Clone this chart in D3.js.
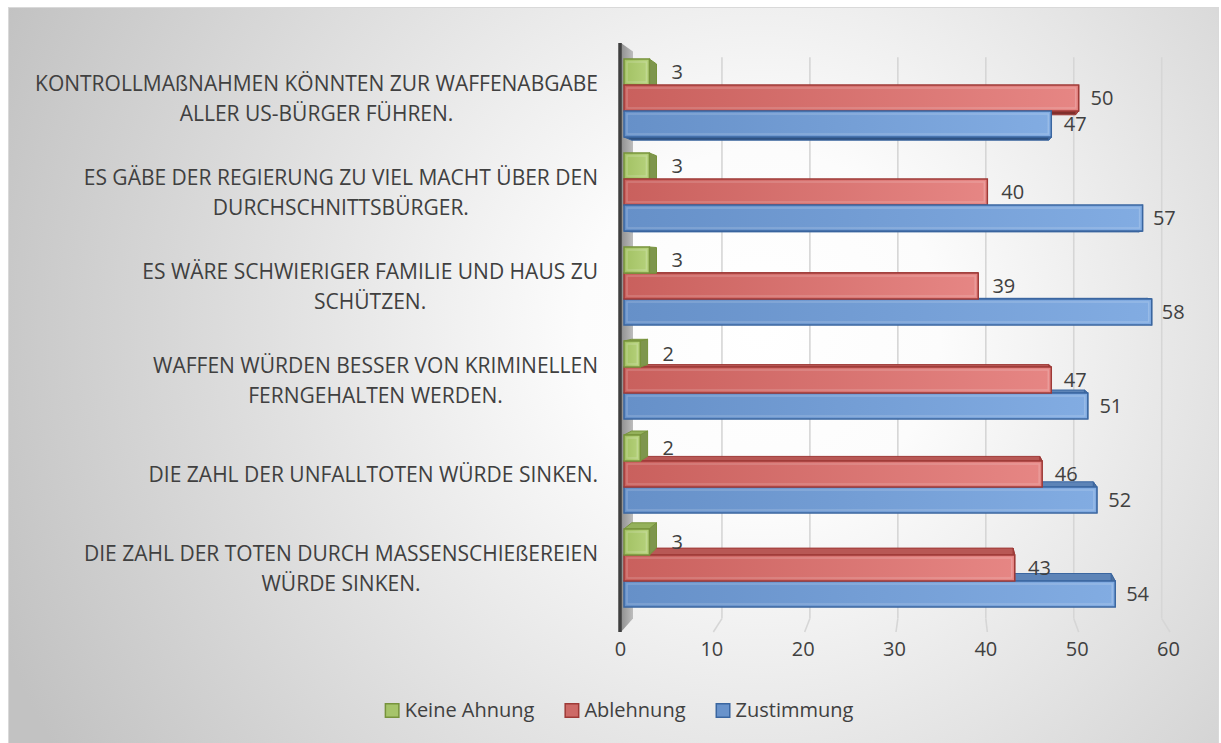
<!DOCTYPE html>
<html>
<head>
<meta charset="utf-8">
<script src="https://cdn.jsdelivr.net/npm/d3@7"></script>
<style>
  body { margin: 0; background: #fff; }
  svg { display: block; }
  text { font-family: "Open Sans", sans-serif; fill: #404040; }
</style>
</head>
<body>
<div id="chart"></div>
<script>
// category labels, already wrapped the way the chart shows them
const categoryLines = [
    ["KONTROLLMAßNAHMEN KÖNNTEN ZUR WAFFENABGABE", "ALLER US-BÜRGER FÜHREN."],
    ["ES GÄBE DER REGIERUNG ZU VIEL MACHT ÜBER DEN", "DURCHSCHNITTSBÜRGER."],
    ["ES WÄRE SCHWIERIGER FAMILIE UND HAUS ZU", "SCHÜTZEN."],
    ["WAFFEN WÜRDEN BESSER VON KRIMINELLEN", "FERNGEHALTEN WERDEN."],
    ["DIE ZAHL DER UNFALLTOTEN WÜRDE SINKEN."],
    ["DIE ZAHL DER TOTEN DURCH MASSENSCHIEßEREIEN", "WÜRDE SINKEN."]
];
const seriesNames = ["Keine Ahnung", "Ablehnung", "Zustimmung"];
const keineAhnung = [3, 3, 3, 2, 2, 3];
const ablehnung = [50, 40, 39, 47, 46, 43];
const zustimmung = [47, 57, 58, 51, 52, 54];
const xTicks = [0, 10, 20, 30, 40, 50, 60];

const seriesValues = [keineAhnung, ablehnung, zustimmung];
const colors = {
    "Keine Ahnung": {dark: "#77933c", from: "#a2c163", to: "#b6d27c", swatch: "#a6c46a"},
    "Ablehnung": {dark: "#9e3a37", from: "#c9605d", to: "#e68684", swatch: "#cd6a67"},
    "Zustimmung": {dark: "#3a66a0", from: "#6690c8", to: "#82acE2", swatch: "#6993cb"}
};

const width = 1221, height = 743;
let wallTop = 43, wallBottom = 632;
let vp = [946, 269];     // vanishing point of the 3d view
let kBar = 0.024, kWall = 0.037;
let depth = (p, k) => [p[0] + k * (vp[0] - p[0]), p[1] + k * (vp[1] - p[1])];
let poly = pts => "M" + pts.map(p => p[0].toFixed(1) + "," + p[1].toFixed(1)).join("L") + "Z";

let svg = d3.select("#chart").append("svg")
    .attr("width", width)
    .attr("height", height);

let defs = svg.append("defs");
let bg = defs.append("radialGradient").attr("id", "bg")
    .attr("gradientUnits", "userSpaceOnUse")
    .attr("cx", 760).attr("cy", 330).attr("r", 820);
bg.append("stop").attr("offset", 0).attr("stop-color", "#ffffff");
bg.append("stop").attr("offset", 0.22).attr("stop-color", "#fcfcfc");
bg.append("stop").attr("offset", 1).attr("stop-color", "#c2c2c2");

seriesNames.forEach((s, j) => {
    let g = defs.append("linearGradient").attr("id", "grad" + j);
    g.append("stop").attr("offset", 0).attr("stop-color", colors[s].from);
    g.append("stop").attr("offset", 1).attr("stop-color", colors[s].to);
});
let wg = defs.append("linearGradient").attr("id", "wall");
wg.append("stop").attr("offset", 0).attr("stop-color", "#8f8f8f");
wg.append("stop").attr("offset", 1).attr("stop-color", "#bdbdbd");

svg.append("rect")
    .attr("x", 8.5).attr("y", 7.5)
    .attr("width", 1210).attr("height", 745)
    .attr("fill", "url(#bg)")
    .attr("stroke", "#d9d9d9");

let xScale = d3.scaleLinear().domain([0, 60]).range([622, 1170]);
let yScale = d3.scaleBand()
    .domain(d3.range(categoryLines.length))
    .range([51, 615])
    .paddingInner(0.17)
    .paddingOuter(0.085);
let ySeries = d3.scaleBand()
    .domain(seriesNames)
    .range([0, yScale.bandwidth()]);

// back wall gridlines and floor lines
let grid = svg.append("g");
xTicks.filter(t => t > 0).forEach(t => {
    let top = depth([xScale(t), wallTop], kWall);
    let bot = depth([xScale(t), wallBottom], kWall);
    grid.append("line")
        .attr("x1", top[0]).attr("y1", top[1] + 6)
        .attr("x2", bot[0]).attr("y2", bot[1])
        .attr("stroke", "#d6d6d6").attr("stroke-width", 1.6);
    grid.append("line")
        .attr("x1", bot[0]).attr("y1", bot[1])
        .attr("x2", xScale(t)).attr("y2", wallBottom)
        .attr("stroke", "#d6d6d6").attr("stroke-width", 1.6);
});

// left side wall
let wx = xScale(0) - 1;
let wallPts = [[wx, wallTop], depth([wx, wallTop], kWall), depth([wx, wallBottom], kWall), [wx, wallBottom]];
svg.append("path").attr("d", poly(wallPts)).attr("fill", "url(#wall)");
svg.append("line")
    .attr("x1", wx - 1).attr("y1", wallTop)
    .attr("x2", wx - 1).attr("y2", wallBottom)
    .attr("stroke", "#3f3f3f").attr("stroke-width", 3.5);

// bars
let bars = [];
categoryLines.forEach((c, i) => {
    seriesNames.forEach((s, j) => {
        let y0 = yScale(i) + ySeries(s);
        bars.push({cat: i, series: s, j: j, value: seriesValues[j][i], y0: y0, y1: y0 + ySeries.bandwidth()});
    });
});
bars.sort((a, b) => Math.abs((b.y0 + b.y1) / 2 - vp[1]) - Math.abs((a.y0 + a.y1) / 2 - vp[1]));

let barG = svg.append("g");
bars.forEach(d => {
    let x0 = xScale(0) + 2, x1 = xScale(d.value);
    let TL = [x0, d.y0], TR = [x1, d.y0], BR = [x1, d.y1], BL = [x0, d.y1];
    let bTL = depth(TL, kBar), bTR = depth(TR, kBar), bBR = depth(BR, kBar), bBL = depth(BL, kBar);
    let c = colors[d.series];
    let g = barG.append("g");
    if (bTL[1] < TL[1]) {
        g.append("path").attr("d", poly([TL, TR, bTR, bTL]))
            .attr("fill", d3.color(c.from).darker(0.25)).attr("stroke", c.dark).attr("stroke-width", 1);
    } else {
        g.append("path").attr("d", poly([BL, BR, bBR, bBL]))
            .attr("fill", d3.color(c.dark).darker(0.6)).attr("stroke", c.dark).attr("stroke-width", 1);
    }
    g.append("path").attr("d", poly([TR, BR, bBR, bTR]))
        .attr("fill", d3.color(c.from).darker(0.7)).attr("stroke", c.dark).attr("stroke-width", 1);
    g.append("rect")
        .attr("x", x0).attr("y", d.y0)
        .attr("width", x1 - x0).attr("height", d.y1 - d.y0)
        .attr("fill", "url(#grad" + d.j + ")")
        .attr("stroke", c.dark).attr("stroke-width", 1.5);
    g.append("rect")
        .attr("x", x0 + 3).attr("y", d.y0 + 3)
        .attr("width", Math.max(0, x1 - x0 - 6)).attr("height", d.y1 - d.y0 - 6)
        .attr("fill", "none")
        .attr("stroke", "#ffffff").attr("stroke-opacity", 0.18).attr("stroke-width", 1.5);

    let off = depth([x1, (d.y0 + d.y1) / 2], kBar);
    svg.append("text")
        .attr("x", off[0] + 15)
        .attr("y", (d.y0 + d.y1) / 2)
        .attr("dy", "0.36em")
        .style("font-size", "20px")
        .text(d.value);
});

// category labels: block right aligned, lines centered inside it
categoryLines.forEach((lines, i) => {
    let cy = yScale(i) + yScale.bandwidth() / 2;
    let lineH = 30;
    let g = svg.append("g");
    let texts = lines.map((l, k) => g.append("text")
        .attr("y", cy + (k - (lines.length - 1) / 2) * lineH)
        .attr("dy", "0.36em")
        .attr("text-anchor", "middle")
        .style("font-size", "21px")
        .text(l));
    let maxW = d3.max(texts, t => t.node().getComputedTextLength());
    texts.forEach(t => t.attr("x", 598 - maxW / 2));
});

// x axis labels
let axis = svg.append("g")
    .attr("transform", "translate(-2," + wallBottom + ")")
    .call(d3.axisBottom(xScale).tickValues(xTicks).tickSize(0).tickPadding(10));
axis.select(".domain").remove();
axis.selectAll("text")
    .style("font-size", "20px")
    .style("font-family", "'Open Sans', sans-serif")
    .attr("fill", "#404040");

// legend
let legend = svg.append("g");
let lx = 0;
seriesNames.forEach(s => {
    let g = legend.append("g");
    g.append("rect")
        .attr("x", 0.75).attr("y", -6.25)
        .attr("width", 13.5).attr("height", 13.5)
        .attr("fill", colors[s].swatch)
        .attr("stroke", colors[s].dark).attr("stroke-width", 1.5);
    let t = g.append("text")
        .attr("x", 20).attr("dy", "0.36em")
        .style("font-size", "20px")
        .text(s);
    let w = 20 + t.node().getComputedTextLength();
    g.attr("transform", "translate(" + lx + ",0)");
    lx += w + 30;
});
let legendW = lx - 30;
legend.attr("transform", "translate(" + (619 - legendW / 2) + ",710)");
</script>
</body>
</html>
